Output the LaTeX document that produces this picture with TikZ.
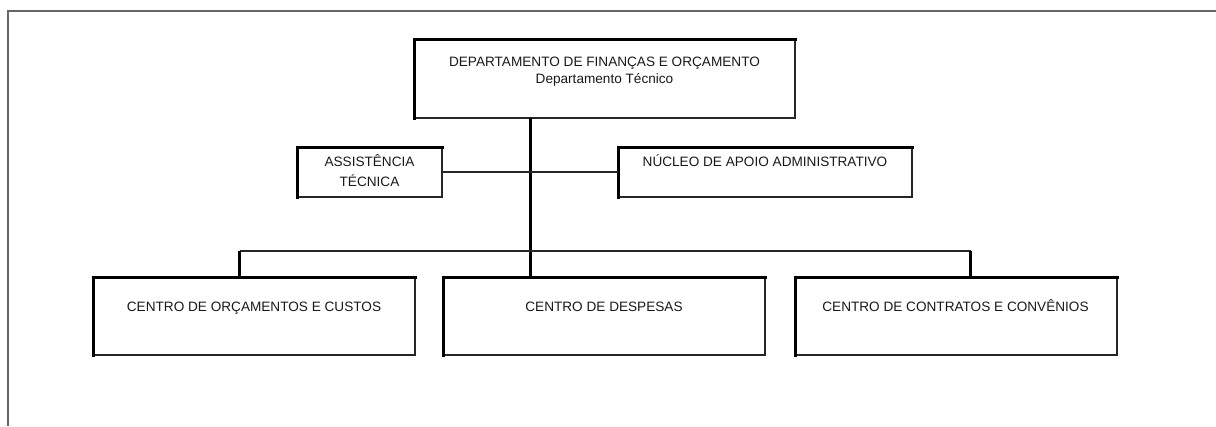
\documentclass[tikz,border=0pt]{standalone}
\usepackage{fontspec}
\setmainfont{Liberation Sans}
\begin{document}
\begin{tikzpicture}[x=1pt,y=-1pt,
  box/.style={draw=black!85, line width=1.6pt, inner sep=0pt, outer sep=0pt, anchor=north west, fill=white},
  lbl/.style={inner sep=0pt, outer sep=0pt, anchor=base, text=black!90, font=\fontsize{13.6}{16}\selectfont},
  edge/.style={line width=3pt, black},
  link/.style={line width=3pt, black},
  bus/.style={line width=2pt, black!85},
  frameline/.style={line width=2pt, black!60}]
\useasboundingbox (0,0) rectangle (1216,426);
% outer frame (only top and left visible)
\draw[frameline] (7.5,426) -- (7.5,10.5) -- (1216,10.5);
% boxes
\node[box, minimum width=381pt, minimum height=79pt] (top) at (414,39) {};
\node[box, minimum width=145pt, minimum height=50pt] (assist) at (297,147) {};
\node[box, minimum width=294pt, minimum height=50pt] (nucleo) at (618,147) {};
\node[box, minimum width=322pt, minimum height=78pt] (c1) at (93,277) {};
\node[box, minimum width=322pt, minimum height=78pt] (c2) at (443,277) {};
\node[box, minimum width=322pt, minimum height=78pt] (c3) at (795,277) {};
\foreach \n in {top,assist,nucleo,c1,c2,c3}{
  \draw[edge, line cap=rect] (\n.south west) -- (\n.north west) -- (\n.north east);
}
% texts
\node[lbl] (topA) at (604.5,66) {DEPARTAMENTO DE FINANÇAS E ORÇAMENTO};
\node[lbl] (topB) at (604.5,83) {Departamento Técnico};
\node[lbl] (assA) at (369.5,166.5) {ASSISTÊNCIA};
\node[lbl] (assB) at (369.5,186) {TÉCNICA};
\node[lbl] (nucA) at (765,166.5) {NÚCLEO DE APOIO ADMINISTRATIVO};
\node[lbl] (c1T) at (254,311.5) {CENTRO DE ORÇAMENTOS E CUSTOS};
\node[lbl] (c2T) at (604,311.5) {CENTRO DE DESPESAS};
\node[lbl] (c3T) at (955.5,311.5) {CENTRO DE CONTRATOS E CONVÊNIOS};
% connectors
\coordinate (trunk) at (top.south -| 530.5,0);
\coordinate (busL) at (239.5,250.5);
\coordinate (busM) at (530.5,250.5);
\coordinate (busR) at (970.5,250.5);
\draw[link] (trunk) -- (c2.north -| busM);
\draw[bus] (assist.east |- 0,171.5) -- (nucleo.west |- 0,171.5);
\draw[bus] (busL) -- (busR);
\draw[link] (busL) -- (c1.north -| busL);
\draw[link] (busR) -- (c3.north -| busR);
\end{tikzpicture}
\end{document}
